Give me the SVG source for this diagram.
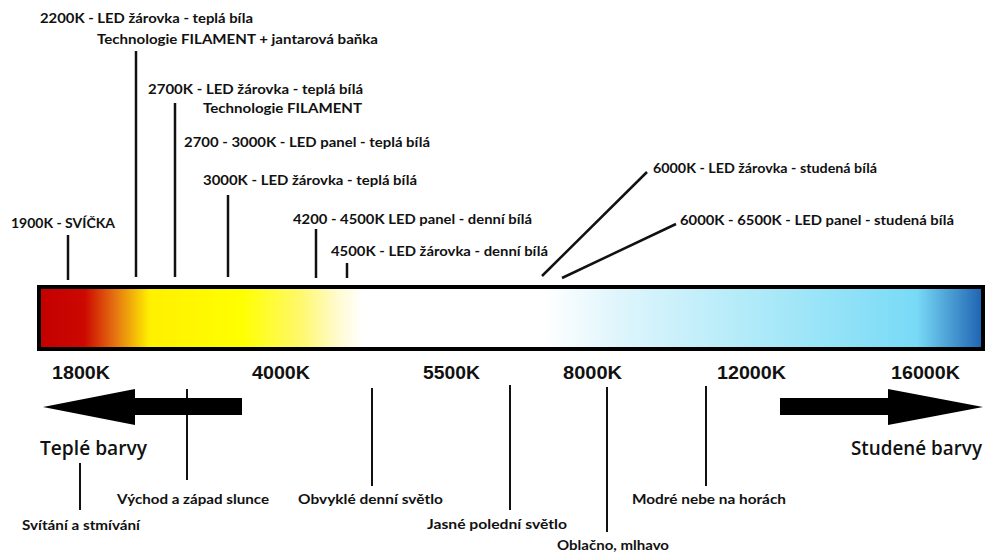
<svg xmlns="http://www.w3.org/2000/svg" width="989" height="553" viewBox="0 0 989 553">
<style>
.lbl{font-family:Lato,"Liberation Sans",sans-serif;font-weight:700;font-size:14px;fill:#111}
.tick{font-family:"Liberation Sans Narrow","Liberation Sans",sans-serif;font-weight:700;font-size:19px;fill:#111}
.big{font-family:"Open Sans",Lato,"Liberation Sans",sans-serif;font-weight:600;font-size:20px;fill:#111}
.ln{stroke:#111;stroke-width:2.5;fill:none}
.ln2{stroke:#111;stroke-width:2;fill:none}
</style>
<defs>
<linearGradient id="spec" x1="0" y1="0" x2="1" y2="0">
<stop offset="0" stop-color="#c40000"/>
<stop offset="0.048" stop-color="#cc0800"/>
<stop offset="0.082" stop-color="#e67812"/>
<stop offset="0.117" stop-color="#fff000"/>
<stop offset="0.215" stop-color="#ffff00"/>
<stop offset="0.276" stop-color="#fff86a"/>
<stop offset="0.318" stop-color="#fffbd2"/>
<stop offset="0.343" stop-color="#ffffff"/>
<stop offset="0.534" stop-color="#ffffff"/>
<stop offset="0.616" stop-color="#def5fc"/>
<stop offset="0.786" stop-color="#a6e8f8"/>
<stop offset="0.93" stop-color="#78daf6"/>
<stop offset="1" stop-color="#1e62b2"/>
</linearGradient>
</defs>
<rect width="989" height="553" fill="#ffffff"/>

<g id="bar">
<rect x="39" y="287" width="944" height="62" fill="url(#spec)" stroke="#000" stroke-width="4"/>
</g>

<g id="scale">
<text class="tick" x="52" y="379" textLength="58" lengthAdjust="spacingAndGlyphs">1800K</text>
<text class="tick" x="252" y="379" textLength="58" lengthAdjust="spacingAndGlyphs">4000K</text>
<text class="tick" x="423" y="379" textLength="57" lengthAdjust="spacingAndGlyphs">5500K</text>
<text class="tick" x="563" y="379" textLength="59" lengthAdjust="spacingAndGlyphs">8000K</text>
<text class="tick" x="717" y="379" textLength="69" lengthAdjust="spacingAndGlyphs">12000K</text>
<text class="tick" x="891" y="379" textLength="69" lengthAdjust="spacingAndGlyphs">16000K</text>
</g>

<g id="connectors">
<line class="ln" x1="136" y1="51" x2="136" y2="277"/>
<line class="ln" x1="175" y1="103" x2="175" y2="277"/>
<line class="ln" x1="228" y1="195" x2="228" y2="277"/>
<line class="ln" x1="68" y1="235" x2="68" y2="280"/>
<line class="ln" x1="316" y1="229" x2="316" y2="278"/>
<line class="ln" x1="347" y1="263" x2="347" y2="278"/>
<line class="ln" x1="542" y1="276" x2="647" y2="172"/>
<line class="ln" x1="562" y1="278" x2="676" y2="224"/>
<line class="ln2" x1="80" y1="463" x2="80" y2="510"/>
<line class="ln2" x1="187" y1="389" x2="187" y2="480"/>
<line class="ln2" x1="372" y1="388" x2="372" y2="486"/>
<line class="ln2" x1="510" y1="385" x2="510" y2="510"/>
<line class="ln2" x1="607" y1="387" x2="607" y2="532"/>
<line class="ln2" x1="706" y1="386" x2="706" y2="486"/>
</g>

<g id="n2200">
<text class="lbl" x="40" y="23" textLength="213" lengthAdjust="spacingAndGlyphs">2200K - LED žárovka - teplá bíla</text>
<text class="lbl" x="97" y="44" textLength="281" lengthAdjust="spacingAndGlyphs">Technologie FILAMENT + jantarová baňka</text>
</g>
<g id="n2700">
<text class="lbl" x="148" y="94" textLength="215" lengthAdjust="spacingAndGlyphs">2700K - LED žárovka - teplá bílá</text>
<text class="lbl" x="203" y="113" textLength="159" lengthAdjust="spacingAndGlyphs">Technologie FILAMENT</text>
</g>
<g id="n2700panel">
<text class="lbl" x="184" y="147" textLength="246" lengthAdjust="spacingAndGlyphs">2700 - 3000K - LED panel - teplá bílá</text>
</g>
<g id="n3000">
<text class="lbl" x="203" y="185" textLength="214" lengthAdjust="spacingAndGlyphs">3000K - LED žárovka - teplá bílá</text>
</g>
<g id="n1900">
<text class="lbl" x="11" y="228" textLength="104" lengthAdjust="spacingAndGlyphs">1900K - SVÍČKA</text>
</g>
<g id="n4200">
<text class="lbl" x="293" y="224" textLength="239" lengthAdjust="spacingAndGlyphs">4200 - 4500K LED panel - denní bílá</text>
</g>
<g id="n4500">
<text class="lbl" x="331" y="256" textLength="217" lengthAdjust="spacingAndGlyphs">4500K - LED žárovka - denní bílá</text>
</g>
<g id="n6000">
<text class="lbl" x="653" y="173" textLength="224" lengthAdjust="spacingAndGlyphs">6000K - LED žárovka - studená bílá</text>
</g>
<g id="n6500">
<text class="lbl" x="680" y="225" textLength="274" lengthAdjust="spacingAndGlyphs">6000K - 6500K - LED panel - studená bílá</text>
</g>

<g id="warm">
<polygon points="43,407 135,389 135,398 242,398 242,415 135,415 135,425" fill="#000"/>
<text class="big" x="40" y="455" textLength="107" lengthAdjust="spacingAndGlyphs">Teplé barvy</text>
</g>
<g id="cold">
<polygon points="780,398 888,398 888,389 983,407 888,425 888,415 780,415" fill="#000"/>
<text class="big" x="851" y="455" font-size="16.5" textLength="131" lengthAdjust="spacingAndGlyphs">Studené barvy</text>
</g>

<g id="dawn"><text class="lbl" x="22" y="530" textLength="118" lengthAdjust="spacingAndGlyphs">Svítání a stmívání</text></g>
<g id="sunrise"><text class="lbl" x="117" y="504" textLength="152" lengthAdjust="spacingAndGlyphs">Východ a západ slunce</text></g>
<g id="daylight"><text class="lbl" x="298" y="504" textLength="145" lengthAdjust="spacingAndGlyphs">Obvyklé denní světlo</text></g>
<g id="noon"><text class="lbl" x="427" y="529" textLength="140" lengthAdjust="spacingAndGlyphs">Jasné polední světlo</text></g>
<g id="cloudy"><text class="lbl" x="557" y="550" textLength="112" lengthAdjust="spacingAndGlyphs">Oblačno, mlhavo</text></g>
<g id="sky"><text class="lbl" x="632" y="504" textLength="154" lengthAdjust="spacingAndGlyphs">Modré nebe na horách</text></g>
</svg>
